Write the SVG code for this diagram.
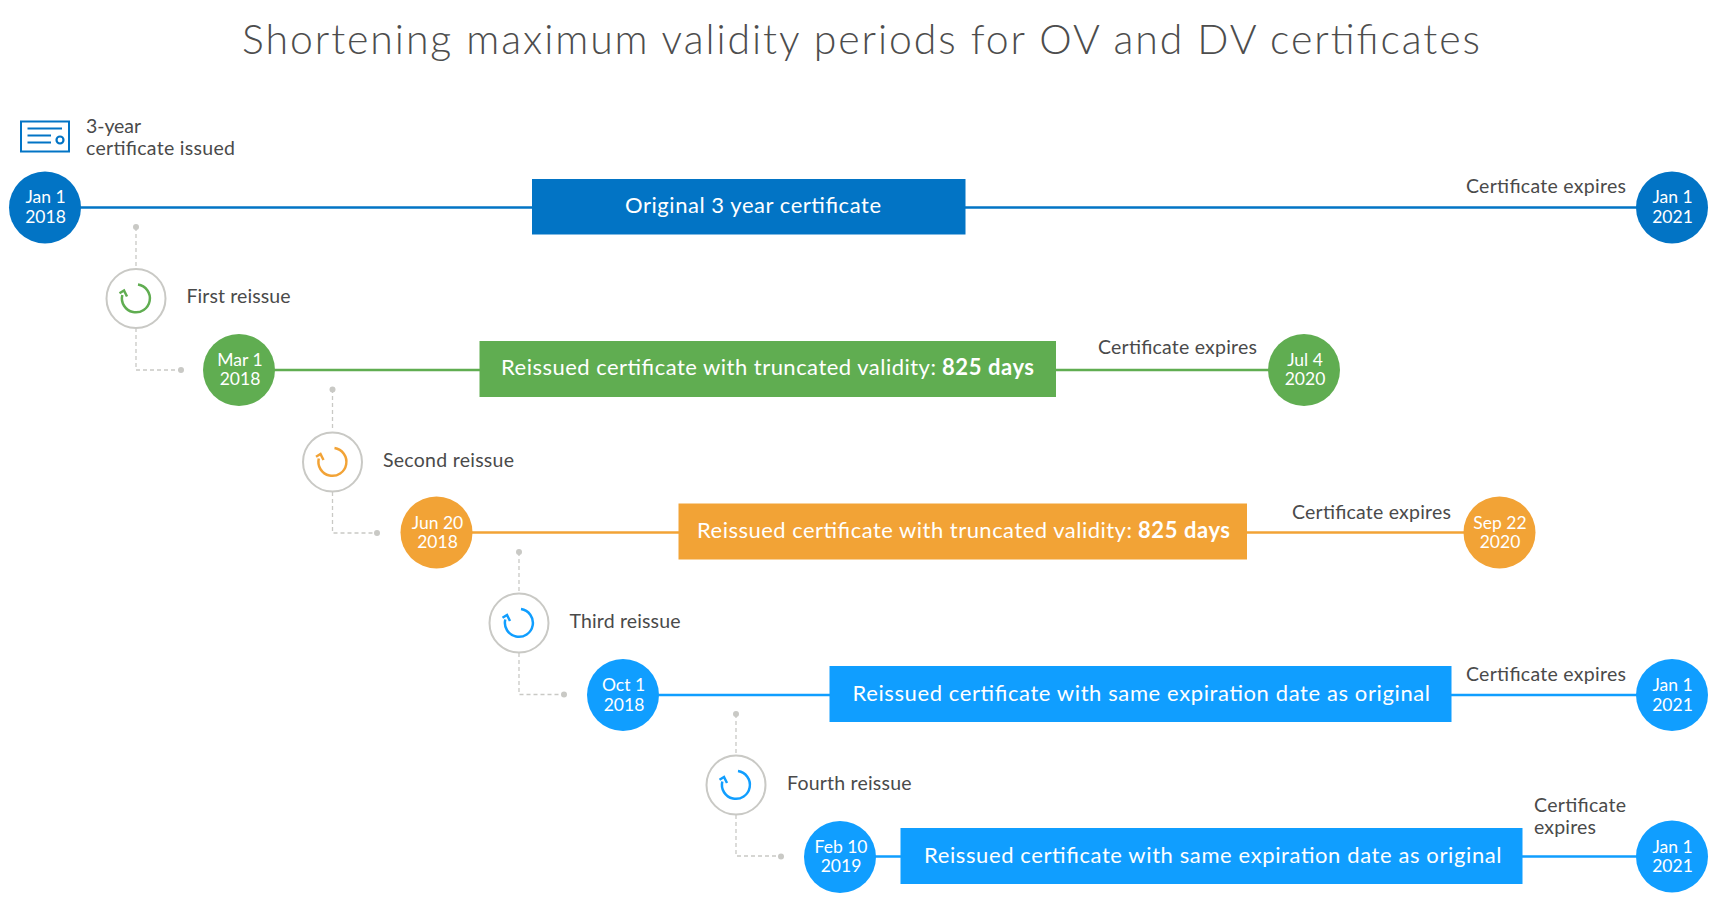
<svg xmlns="http://www.w3.org/2000/svg" width="1723" height="918" viewBox="0 0 1723 918">
<style>
text{font-family:"Lato","Liberation Sans",sans-serif;}
.title{font-size:41px;font-weight:300;fill:#4d4d4d;}
.lab{font-size:19.5px;fill:#4a4a4a;}
.date{font-size:17.5px;fill:#fff;text-anchor:middle;}
.bar{font-size:22px;fill:#fff;}
.bar .b{font-weight:700;}
.dash{fill:none;stroke:#c9c9c5;stroke-width:1.3;stroke-dasharray:4 3;}
.dot{fill:#c9c9c5;}
.ring{fill:#fff;stroke:#c9c9c5;stroke-width:2;}
.conn{stroke-width:2.5;fill:none;}
.navy{fill:#0274c5;}.green{fill:#60ad51;}.orange{fill:#f2a336;}.sky{fill:#109eff;}
.snavy{stroke:#0274c5;}.sgreen{stroke:#60ad51;}.sorange{stroke:#f2a336;}.ssky{stroke:#109eff;}
</style>
<defs>
<g id="reissue-icon" fill="none" stroke="currentColor" stroke-width="2.5">
<path d="M2,-14 A14,14 0 1 1 -13.7,-3.5"/>
<path d="M-16.5,-5.3 L-12,-8 L-9,-2"/>
</g>
</defs>
<rect width="1723" height="918" fill="#fff"/>
<text class="title" x="242" y="53.5" textLength="1238">Shortening maximum validity periods for OV and DV certificates</text>

<g id="connectors">
<path class="conn snavy" d="M45,207.5H1672"/>
<path class="conn sgreen" d="M239,370H1304"/>
<path class="conn sorange" d="M436,532.5H1500"/>
<path class="conn ssky" d="M623,695H1672"/>
<path class="conn ssky" d="M840,856.5H1672"/>
<path class="dash" d="M136,227V268M136,328V370H181"/>
<path class="dash" d="M332.5,389V431M332.5,492V533H377"/>
<path class="dash" d="M519,552V593M519,653V694.5H564"/>
<path class="dash" d="M736,714V755M736,815V856H781"/>
<circle class="dot" cx="136" cy="227" r="3"/><circle class="dot" cx="181" cy="370" r="3"/>
<circle class="dot" cx="332.5" cy="389.5" r="3"/><circle class="dot" cx="377" cy="533" r="3"/>
<circle class="dot" cx="519" cy="552" r="3"/><circle class="dot" cx="564" cy="694.5" r="3"/>
<circle class="dot" cx="736" cy="714" r="3"/><circle class="dot" cx="781" cy="856.5" r="3"/>
</g>

<g id="issued-note">
<g fill="none" stroke="#0274c5">
<rect x="21" y="121.5" width="48" height="30" stroke-width="2"/>
<path d="M27.5,128.5H62M27.5,135.5H51M27.5,142.5H51" stroke-width="2"/>
<circle cx="60" cy="140" r="3.5" stroke-width="2.2"/>
</g>
<text class="lab" x="86" y="132.5" textLength="55">3-year</text>
<text class="lab" x="86" y="154.5" textLength="149">certificate issued</text>
</g>

<g id="start-0"><circle class="navy" cx="45" cy="207.5" r="36"/><text class="date" x="45.5" y="203">Jan 1</text><text class="date" x="45.5" y="222.5">2018</text></g>
<g id="bar-0"><rect class="navy" x="532" y="179" width="433.5" height="55.5"/><text class="bar" x="625" y="212.5" textLength="256">Original 3 year certificate</text></g>
<g id="end-0"><text class="lab" x="1466" y="192.5" textLength="160">Certificate expires</text><circle class="navy" cx="1672" cy="207.5" r="36"/><text class="date" x="1672.5" y="203">Jan 1</text><text class="date" x="1672.5" y="222.5">2021</text></g>

<g id="reissue-1"><circle class="ring" cx="136" cy="298.5" r="29.5"/><use href="#reissue-icon" x="136" y="298.5" color="#60ad51"/><text class="lab" x="186.5" y="302.5" textLength="104">First reissue</text></g>
<g id="start-1"><circle class="green" cx="239" cy="370" r="36"/><text class="date" x="240" y="366">Mar 1</text><text class="date" x="240" y="385">2018</text></g>
<g id="bar-1"><rect class="green" x="479.5" y="341" width="576.5" height="56"/><text class="bar" x="501" y="375"><tspan textLength="441">Reissued certificate with truncated validity: </tspan><tspan class="b" x="942" textLength="92">825 days</tspan></text></g>
<g id="end-1"><text class="lab" x="1098" y="354" textLength="159">Certificate expires</text><circle class="green" cx="1304" cy="370" r="36"/><text class="date" x="1305" y="366">Jul 4</text><text class="date" x="1305" y="385">2020</text></g>

<g id="reissue-2"><circle class="ring" cx="332.5" cy="462" r="29.5"/><use href="#reissue-icon" x="332.5" y="462" color="#f2a336"/><text class="lab" x="383" y="466.5" textLength="131">Second reissue</text></g>
<g id="start-2"><circle class="orange" cx="436.5" cy="532.5" r="36"/><text class="date" x="437.5" y="528.5">Jun 20</text><text class="date" x="437.5" y="547.5">2018</text></g>
<g id="bar-2"><rect class="orange" x="678.5" y="503.5" width="568.5" height="56"/><text class="bar" x="697" y="538"><tspan textLength="441">Reissued certificate with truncated validity: </tspan><tspan class="b" x="1138" textLength="92">825 days</tspan></text></g>
<g id="end-2"><text class="lab" x="1292" y="518.5" textLength="159">Certificate expires</text><circle class="orange" cx="1499.5" cy="532.5" r="36"/><text class="date" x="1500" y="528.5">Sep 22</text><text class="date" x="1500" y="548">2020</text></g>

<g id="reissue-3"><circle class="ring" cx="519" cy="623" r="29.5"/><use href="#reissue-icon" x="519" y="623" color="#109eff"/><text class="lab" x="569.5" y="627.5" textLength="111">Third reissue</text></g>
<g id="start-3"><circle class="sky" cx="623" cy="695" r="36"/><text class="date" x="623.5" y="691">Oct 1</text><text class="date" x="624" y="710.5">2018</text></g>
<g id="bar-3"><rect class="sky" x="829.5" y="666" width="622" height="56"/><text class="bar" x="852.5" y="700.5" textLength="577.5">Reissued certificate with same expiration date as original</text></g>
<g id="end-3"><text class="lab" x="1466" y="680.5" textLength="160">Certificate expires</text><circle class="sky" cx="1672" cy="695" r="36"/><text class="date" x="1672.5" y="691">Jan 1</text><text class="date" x="1672.5" y="710.5">2021</text></g>

<g id="reissue-4"><circle class="ring" cx="736" cy="785" r="29.5"/><use href="#reissue-icon" x="736" y="785" color="#109eff"/><text class="lab" x="787" y="789.5" textLength="124.5">Fourth reissue</text></g>
<g id="start-4"><circle class="sky" cx="840" cy="857" r="36"/><text class="date" x="841" y="852.5">Feb 10</text><text class="date" x="841" y="872">2019</text></g>
<g id="bar-4"><rect class="sky" x="900.5" y="828" width="622" height="56"/><text class="bar" x="924" y="862.5" textLength="577.5">Reissued certificate with same expiration date as original</text></g>
<g id="end-4"><text class="lab" x="1534" y="811.5" textLength="92">Certificate</text><text class="lab" x="1534" y="833.5" textLength="62">expires</text><circle class="sky" cx="1672" cy="856.5" r="36"/><text class="date" x="1672.5" y="852.5">Jan 1</text><text class="date" x="1672.5" y="872">2021</text></g>
</svg>
